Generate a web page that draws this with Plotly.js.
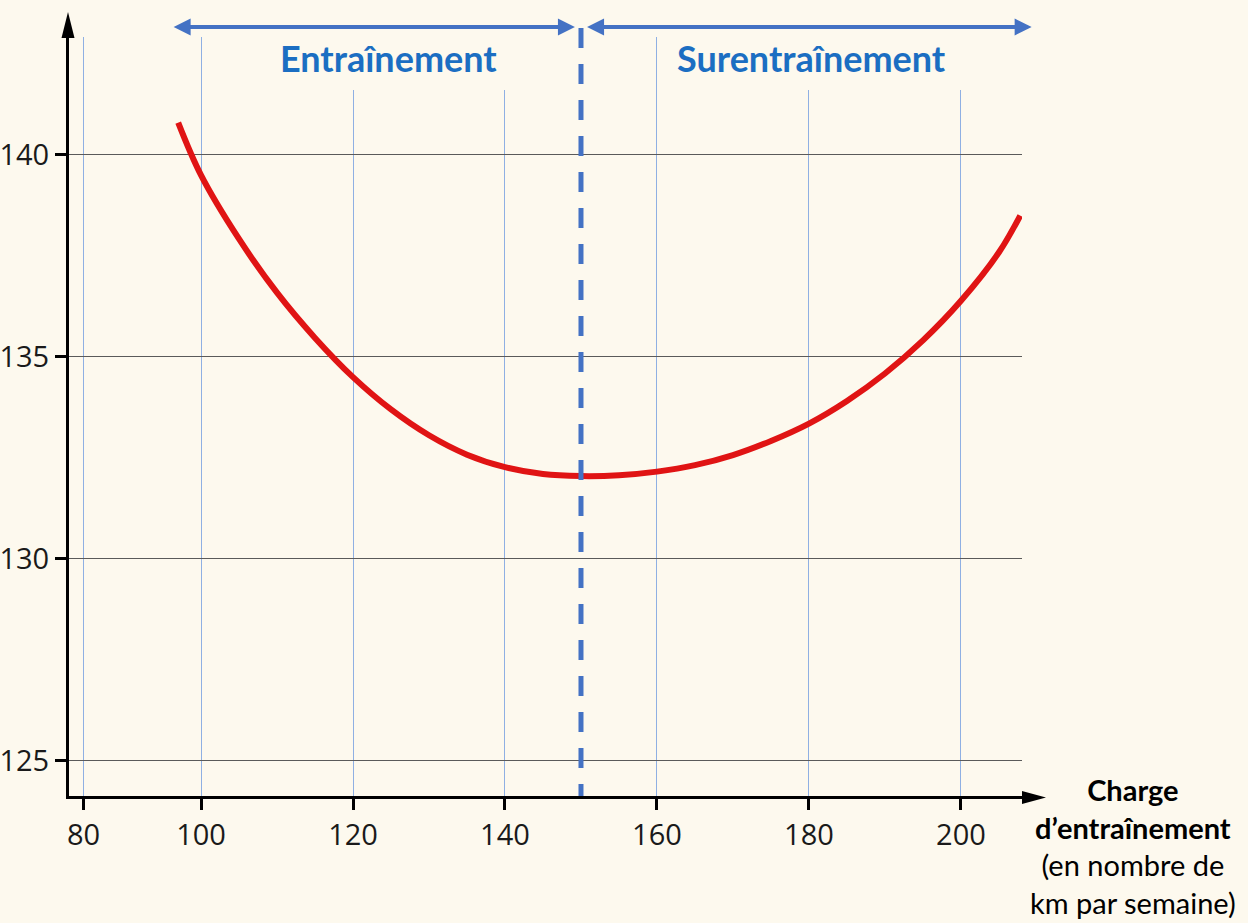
<!DOCTYPE html>
<html>
<head>
<meta charset="utf-8">
<script src="https://cdn.plot.ly/plotly-3.0.1.min.js"></script>
<style>
  html, body { margin: 0; padding: 0; background: #fdf9ee; }
  #chart { width: 1248px; height: 923px; }
</style>
</head>
<body>
<div id="chart"></div>
<script>
// ---- Data ----
const chargeKm = [97, 100, 105, 110, 115, 120, 125, 130, 135, 140, 145, 150, 155, 160, 165, 170, 175, 180, 185, 190, 195, 200, 205, 207.8];
const valeur   = [140.8, 139.5, 137.92, 136.59, 135.47, 134.5, 133.7, 133.06, 132.58, 132.27, 132.1, 132.05, 132.07, 132.16, 132.32, 132.57, 132.92, 133.35, 133.91, 134.59, 135.41, 136.39, 137.59, 138.5];
const seuil = 150;                       // limit entraînement / surentraînement
const xTickVals = [84.54, 100, 120, 140, 160, 180, 200];   // "80" sits close to the y axis in the original
const xTickText = ['80', '100', '120', '140', '160', '180', '200'];
const yTickVals = [125, 130, 135, 140];
const yTickText = ['125', '130', '135', '140'];
const zoneLabels = ['Entraînement', 'Surentraînement'];
const xTitleLines = ['<b>Charge</b>', '<b>d’entraînement</b>', '(en nombre de', 'km par semaine)'];

// ---- Layout geometry ----
const W = 1248, H = 923;
const L = 69, R = 1022, T = 37, B = 796;
const X = px => (px - L) / (R - L);
const Y = py => (B - py) / (B - T);
const bg = '#fdf9ee';
const blue = '#4472c4';

const trace = {
  x: chargeKm, y: valeur, type: 'scatter', mode: 'lines',
  line: { color: '#e01414', width: 6, shape: 'spline', smoothing: 1 },
  hoverinfo: 'x+y'
};

const shapes = [
  // cover gridlines behind the zone labels
  { type: 'rect', xref: 'paper', yref: 'paper', x0: X(232), x1: X(545), y0: Y(90), y1: 1.002,
    fillcolor: bg, line: { width: 0 }, layer: 'above' },
  { type: 'rect', xref: 'paper', yref: 'paper', x0: X(680), x1: X(1020), y0: Y(90), y1: 1.002,
    fillcolor: bg, line: { width: 0 }, layer: 'above' },
  // dashed threshold line
  { type: 'line', xref: 'x', yref: 'paper', x0: seuil, x1: seuil, y0: Y(28), y1: 0,
    line: { color: blue, width: 5, dash: '20px,16px' }, layer: 'above' },
  // y axis arrow head
  { type: 'path', xref: 'paper', yref: 'paper',
    path: `M ${X(68)},${Y(12)} L ${X(61.5)},${Y(38)} L ${X(74.5)},${Y(38)} Z`,
    fillcolor: '#000', line: { width: 0 } },
  // x axis extension + arrow head
  { type: 'line', xref: 'paper', yref: 'paper', x0: X(1020), x1: X(1026), y0: Y(797.5), y1: Y(797.5),
    line: { color: '#000', width: 3 } },
  { type: 'path', xref: 'paper', yref: 'paper',
    path: `M ${X(1046)},${Y(797.5)} L ${X(1022)},${Y(791)} L ${X(1022)},${Y(804)} Z`,
    fillcolor: '#000', line: { width: 0 } }
];

const annotations = [
  // double arrows on top
  { xref: 'x', yref: 'paper', x: 149.2, y: Y(27), axref: 'x', ayref: 'pixel', ax: 96.2, ay: 0,
    text: '', showarrow: true, arrowside: 'end+start', arrowhead: 2, startarrowhead: 2,
    arrowsize: 0.85, startarrowsize: 0.85, arrowwidth: 4, arrowcolor: blue, standoff: 0, startstandoff: 0 },
  { xref: 'x', yref: 'paper', x: 209.3, y: Y(27), axref: 'x', ayref: 'pixel', ax: 150.6, ay: 0,
    text: '', showarrow: true, arrowside: 'end+start', arrowhead: 2, startarrowhead: 2,
    arrowsize: 0.85, startarrowsize: 0.85, arrowwidth: 4, arrowcolor: blue, standoff: 0, startstandoff: 0 },
  // zone labels
  { xref: 'paper', yref: 'paper', x: X(388), y: Y(58), text: '<b>' + zoneLabels[0] + '</b>', showarrow: false,
    font: { family: 'Lato, sans-serif', size: 36, color: '#1b6ec2' }, xanchor: 'center', yanchor: 'middle' },
  { xref: 'paper', yref: 'paper', x: X(811), y: Y(58), text: '<b>' + zoneLabels[1] + '</b>', showarrow: false,
    font: { family: 'Lato, sans-serif', size: 36, color: '#1b6ec2' }, xanchor: 'center', yanchor: 'middle' },
  // x axis title
  { xref: 'paper', yref: 'paper', x: X(1133), y: Y(846), text: xTitleLines.join('<br>'), showarrow: false,
    align: 'center', xanchor: 'center', yanchor: 'middle',
    font: { family: 'Lato, sans-serif', size: 29, color: '#000' } }
];

const layout = {
  width: W, height: H,
  margin: { l: L, r: W - R, t: T, b: H - B, pad: 0 },
  paper_bgcolor: bg, plot_bgcolor: bg,
  showlegend: false,
  xaxis: {
    range: [82.63, 208.03], tickmode: 'array', tickvals: xTickVals, ticktext: xTickText,
    showgrid: true, gridcolor: '#8fb0e3', gridwidth: 1, zeroline: false,
    showline: true, linecolor: '#000', linewidth: 3,
    ticks: 'outside', ticklen: 11, tickwidth: 3, tickcolor: '#000',
    tickfont: { family: 'Open Sans, sans-serif', size: 29, color: '#1a1a1a' },
    fixedrange: true
  },
  yaxis: {
    range: [124.13, 142.92], tickmode: 'array', tickvals: yTickVals, ticktext: yTickText,
    showgrid: true, gridcolor: '#5a5a5a', gridwidth: 1, zeroline: false,
    showline: true, linecolor: '#000', linewidth: 3,
    ticks: 'outside', ticklen: 11, tickwidth: 3, tickcolor: '#000',
    tickfont: { family: 'Open Sans, sans-serif', size: 29, color: '#1a1a1a' },
    fixedrange: true
  },
  shapes: shapes,
  annotations: annotations
};

Plotly.newPlot('chart', [trace], layout, { displayModeBar: false, staticPlot: true });
</script>
</body>
</html>
